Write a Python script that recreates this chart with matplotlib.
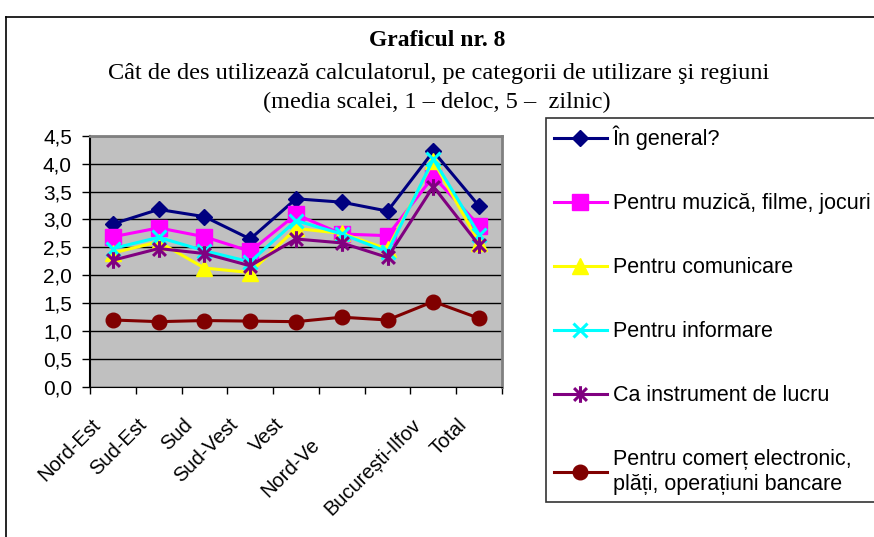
import matplotlib
matplotlib.use('Agg')
import matplotlib.pyplot as plt
import matplotlib.transforms as mtransforms
from matplotlib.path import Path
from matplotlib.lines import Line2D

plt.rcParams['font.family'] = ['Liberation Sans', 'DejaVu Sans']

# regiuni (Centru nu are eticheta vizibila pe axa)
regiuni = ['Nord-Est', 'Sud-Est', 'Sud', 'Sud-Vest', 'Vest', 'Nord-Vest', 'Centru', 'București-Ilfov', 'Total']
etichete = ['Nord-Est', 'Sud-Est', 'Sud', 'Sud-Vest', 'Vest', 'Nord-Ve', '', 'București-Ilfov', 'Total']

in_general = [2.92, 3.18, 3.05, 2.65, 3.37, 3.31, 3.15, 4.22, 3.24]
muzica = [2.69, 2.85, 2.69, 2.43, 3.09, 2.74, 2.71, 3.77, 2.89]
comunicare = [2.40, 2.60, 2.13, 2.05, 2.84, 2.75, 2.47, 4.05, 2.58]
informare = [2.48, 2.68, 2.44, 2.24, 2.98, 2.74, 2.42, 4.08, 2.73]
instrument = [2.27, 2.48, 2.39, 2.17, 2.65, 2.58, 2.32, 3.59, 2.54]
comert = [1.20, 1.17, 1.19, 1.18, 1.17, 1.25, 1.20, 1.53, 1.23]

serii = ['În general?', 'Pentru muzică, filme, jocuri', 'Pentru comunicare',
         'Pentru informare', 'Ca instrument de lucru',
         'Pentru comerț electronic,\nplăți, operațiuni bancare']

# asterisc ca in Excel: x + linie verticala
asterisc = Path([(-1, -1), (1, 1), (-1, 1), (1, -1), (0, -1.3), (0, 1.3)],
                [Path.MOVETO, Path.LINETO, Path.MOVETO, Path.LINETO, Path.MOVETO, Path.LINETO])

fig = plt.figure(figsize=(8.74, 5.37), dpi=100)
W, H = 874, 537
ax = fig.add_axes([90 / W, 1 - 387 / H, 412 / W, 251.3 / H])
ax.set_facecolor('#C0C0C0')

x = list(range(len(regiuni)))
ax.plot(x, in_general, color='#000080', lw=2.2, marker='D', ms=8.5, label=serii[0])
ax.plot(x, muzica, color='#FF00FF', lw=2.2, marker='s', ms=11, label=serii[1])
ax.plot(x, comunicare, color='#FFFF00', lw=2.2, marker='^', ms=11, label=serii[2])
ax.plot(x, informare, color='#00FFFF', lw=2.2, marker='x', ms=10, mew=2.2, label=serii[3])
ax.plot(x, instrument, color='#800080', lw=2.2, marker=asterisc, ms=12, mew=2.2, label=serii[4])
ax.plot(x, comert, color='#800000', lw=2.2, marker='o', ms=10.5, label=serii[5])

ax.set_xlim(-0.5, len(regiuni) - 0.5)
ax.set_ylim(0, 4.5)
ax.set_yticks([i * 0.5 for i in range(10)])
ax.set_yticklabels([f'{i * 0.5:.1f}'.replace('.', ',') for i in range(10)])
ax.yaxis.grid(True, color='black', lw=1)
ax.set_axisbelow(True)

ax.set_xticks(x)
ax.set_xticklabels(etichete, rotation=45, ha='right', va='center', rotation_mode='anchor')
ax.set_xticks([i - 0.5 for i in range(len(regiuni) + 1)], minor=True)
ax.tick_params(axis='x', which='major', length=0, pad=25, labelsize=14.5)
ax.tick_params(axis='x', which='minor', length=5, width=1, direction='out')
ax.tick_params(axis='y', length=6, width=1, direction='out', pad=7, labelsize=15)

for lbl in ax.get_xticklabels():
    dx, dy = -15, 0
    if lbl.get_text() == 'Nord-Ve':
        dx, dy = -25, -20
    lbl.set_transform(lbl.get_transform() + mtransforms.ScaledTranslation(dx / 100, dy / 100, fig.dpi_scale_trans))

for s in ['top', 'right']:
    ax.spines[s].set_color('#808080')
    ax.spines[s].set_linewidth(2)
ax.spines['left'].set_color('black')
ax.spines['left'].set_linewidth(1.5)
ax.spines['bottom'].set_color('black')

fig.text(437 / W, 1 - 41 / H, 'Graficul nr. 8', ha='center', va='center',
         fontsize=17, fontweight='bold', family='Liberation Serif')
fig.text(439 / W, 1 - 73 / H, 'Cât de des utilizează calculatorul, pe categorii de utilizare şi regiuni',
         ha='center', va='center', fontsize=17.5, family='Liberation Serif')
fig.text(437 / W, 1 - 102 / H, '(media scalei, 1 – deloc, 5 –  zilnic)',
         ha='center', va='center', fontsize=17.5, family='Liberation Serif')

# chenarul graficului
fig.add_artist(Line2D([6 / W, 6 / W], [0, 1 - 17 / H], color='black', lw=1.2, transform=fig.transFigure))
fig.add_artist(Line2D([6 / W, 1], [1 - 17 / H, 1 - 17 / H], color='black', lw=1.2, transform=fig.transFigure))

leg = ax.legend(loc='upper left', bbox_to_anchor=(546 / W, 1 - 118 / H), bbox_transform=fig.transFigure,
                fontsize=15.5, frameon=True, fancybox=False, borderaxespad=0, borderpad=0.35,
                labelspacing=2.0, handlelength=2.5, handletextpad=0.25)
leg.get_frame().set_edgecolor('black')
leg.get_frame().set_linewidth(1.2)

fig.savefig('out.png', dpi=100)
